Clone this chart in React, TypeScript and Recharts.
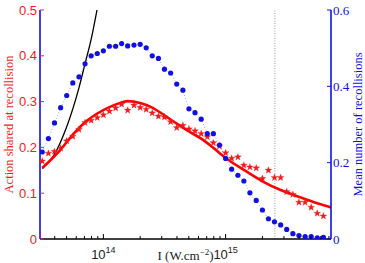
import React from 'react';
import { ComposedChart, Line, XAxis, YAxis, ReferenceLine, Label } from 'recharts';

// Laser intensity (W/cm^2) of each simulated point
const intensities = [
  3.16e13, 3.55e13, 3.98e13, 4.47e13, 5.01e13, 5.62e13, 6.31e13, 7.08e13, 7.94e13, 8.91e13,
  1.0e14, 1.12e14, 1.26e14, 1.41e14, 1.58e14, 1.78e14, 2.0e14, 2.24e14, 2.51e14, 2.82e14,
  3.16e14, 3.55e14, 3.98e14, 4.47e14, 5.01e14, 5.62e14, 6.31e14, 7.08e14, 7.94e14, 8.91e14,
  1.0e15, 1.12e15, 1.26e15, 1.41e15, 1.58e15, 1.78e15, 2.0e15, 2.24e15, 2.51e15, 2.82e15,
  3.16e15, 3.55e15, 3.98e15, 4.47e15, 5.01e15, 5.62e15, 6.31e15,
];
// Mean number of recollisions (right axis, blue dots)
const meanRecollisions = [
  0.228, 0.263, 0.304, 0.344, 0.376, 0.409, 0.425, 0.459, 0.48, 0.486,
  0.493, 0.505, 0.505, 0.512, 0.506, 0.508, 0.51, 0.501, 0.48, 0.473,
  0.445, 0.435, 0.406, 0.39, 0.341, 0.331, 0.314, 0.276, 0.276, 0.246,
  0.211, 0.183, 0.167, 0.152, 0.121, 0.101, 0.076, 0.053, 0.045, 0.037,
  0.025, 0.014, 0.009, 0.006, 0.006, 0.003, 0.004,
];
// Action shared at recollision (left axis, red stars)
const actionShared = [
  0.17, 0.187, 0.191, 0.198, 0.214, 0.224, 0.239, 0.254, 0.259, 0.265,
  0.271, 0.279, 0.286, 0.294, 0.281, 0.292, 0.287, 0.283, 0.275, 0.268,
  0.266, 0.256, 0.243, 0.248, 0.24, 0.236, 0.23, 0.223, 0.21, 0.203,
  0.188, 0.176, 0.179, 0.161, 0.157, 0.155, 0.132, 0.15, 0.134, 0.134,
  0.103, 0.097, 0.08, 0.08, 0.069, 0.056, 0.05,
];
// Model curve (red line)
const modelIntensities = [
  3.16e13, 4.47e13, 5.62e13, 7.08e13, 8.91e13, 1.12e14, 1.41e14, 1.58e14, 2.0e14, 2.51e14,
  3.16e14, 3.98e14, 5.01e14, 6.31e14, 7.94e14, 1.0e15, 1.41e15, 2.0e15, 2.82e15, 3.98e15,
  5.62e15, 7.28e15,
];
const modelValues = [
  0.155, 0.195, 0.228, 0.255, 0.274, 0.288, 0.298, 0.301, 0.297, 0.287,
  0.27, 0.252, 0.235, 0.219, 0.199, 0.177, 0.151, 0.126, 0.107, 0.092,
  0.078, 0.069,
];
// Low-intensity approximation (black line)
const lowIntensities = [3.16e13, 3.98e13, 5.01e13, 6.31e13, 7.08e13, 7.94e13, 8.91e13, 1.0e14];
const lowValues = [0.154, 0.185, 0.245, 0.33, 0.383, 0.436, 0.503, 0.575];

const leftTicks = [0, 0.1, 0.2, 0.3, 0.4, 0.5];
const rightTicks = [0, 0.2, 0.4, 0.6];
const majorXTicks = [1e14, 1e15];
const minorXTicks = [
  4e13, 5e13, 6e13, 7e13, 8e13, 9e13,
  2e14, 3e14, 4e14, 5e14, 6e14, 7e14, 8e14, 9e14,
  2e15, 3e15, 4e15, 5e15, 6e15, 7e15,
];
const xDomain = [3.03e13, 7.28e15];
const thresholdIntensity = 2.53e15;

const blueData = intensities.map((x, i) => ({ x, v: meanRecollisions[i] }));
const starData = intensities.map((x, i) => ({ x, v: actionShared[i] }));
const modelData = modelIntensities.map((x, i) => ({ x, v: modelValues[i] }));
const lowData = lowIntensities.map((x, i) => ({ x, v: lowValues[i] }));

const RED = '#ee1c1c';
const BLUE = '#1010e6';
const SANS = 'Liberation Sans, Arial, sans-serif';
const SERIF = 'Liberation Serif, Times New Roman, serif';

const BottomTick = (props: any) => {
  const { x, y, payload } = props;
  const major = majorXTicks.includes(payload.value);
  const exp = Math.round(Math.log10(payload.value));
  return (
    <g>
      <line x1={x} x2={x} y1={y} y2={y - (major ? 5 : 3)} stroke="#000" strokeWidth={1} />
      {major && (
        <text x={x} y={y + 20} textAnchor="middle" fontFamily={SANS} fontSize={13} fill="#222">
          10
          <tspan dy={-6} fontSize={9}>{exp}</tspan>
        </text>
      )}
    </g>
  );
};

const TopTick = (props: any) => {
  const { x, y, payload } = props;
  const major = majorXTicks.includes(payload.value);
  return <line x1={x} x2={x} y1={y} y2={y + (major ? 5 : 3)} stroke="#000" strokeWidth={1} />;
};

const LeftTick = (props: any) => {
  const { x, y, payload } = props;
  const ax = x + 3;
  return (
    <g>
      <line x1={ax} x2={ax + 4} y1={y} y2={y} stroke="#d0208a" strokeWidth={1} />
      <text x={x} y={y} dy="0.35em" textAnchor="end" fontFamily={SANS} fontSize={13} fill={RED}>
        {payload.value}
      </text>
    </g>
  );
};

const RightTick = (props: any) => {
  const { x, y, payload } = props;
  const ax = x - 2;
  return (
    <g>
      <line x1={ax} x2={ax - 4} y1={y} y2={y} stroke={BLUE} strokeWidth={1} />
      <text x={x} y={y} dy="0.35em" textAnchor="start" fontFamily={SERIF} fontSize={13} fill={BLUE}>
        {payload.value}
      </text>
    </g>
  );
};

const starPath = (cx: number, cy: number, ro: number, ri: number) => {
  const pts: string[] = [];
  for (let i = 0; i < 10; i++) {
    const r = i % 2 === 0 ? ro : ri;
    const a = -Math.PI / 2 + (i * Math.PI) / 5;
    pts.push(`${cx + r * Math.cos(a)},${cy + r * Math.sin(a)}`);
  }
  return pts.join(' ');
};

const StarDot = (p: any) => {
  if (p.cx == null || p.cy == null) return <g key={p.index} />;
  return <polygon key={p.index} points={starPath(p.cx, p.cy, 3.6, 1.5)} fill={RED} stroke={RED} strokeWidth={0.3} />;
};

const BlueDot = (p: any) => {
  if (p.cx == null || p.cy == null) return <g key={p.index} />;
  return <circle key={p.index} cx={p.cx} cy={p.cy} r={2.6} fill={BLUE} />;
};

export default function App() {
  return (
    <div style={{ position: 'absolute', left: 0, top: 0, background: '#fff' }}>
      <ComposedChart width={365} height={263} margin={{ top: 10, right: 0, bottom: 0, left: 0 }}>
        <XAxis
          dataKey="x"
          type="number"
          scale="log"
          domain={xDomain}
          allowDataOverflow
          ticks={[...majorXTicks, ...minorXTicks]}
          interval={0}
          height={24}
          tickSize={0}
          tickMargin={0}
          tick={<BottomTick />}
          axisLine={{ stroke: '#000', strokeWidth: 1.6 }}
          tickLine={false}
        >
          <Label
            content={(p: any) => {
              const vb = p.viewBox;
              return (
                <text x={vb.x + vb.width / 2} y={vb.y + 21} textAnchor="middle" fontFamily={SERIF} fontSize={13} fill="#222">
                  I (W.cm
                  <tspan dy={-5} fontSize={9}>−2</tspan>
                  <tspan dy={5}>)</tspan>
                </text>
              );
            }}
          />
        </XAxis>
        <XAxis
          xAxisId="top"
          dataKey="x"
          orientation="top"
          type="number"
          scale="log"
          domain={xDomain}
          allowDataOverflow
          ticks={[...majorXTicks, ...minorXTicks]}
          interval={0}
          height={0}
          tickSize={0}
          tickMargin={0}
          tick={<TopTick />}
          axisLine={{ stroke: '#111', strokeWidth: 1.6 }}
          tickLine={false}
        />
        <YAxis
          yAxisId="L"
          domain={[0, 0.5]}
          ticks={leftTicks}
          allowDataOverflow
          width={40}
          tickSize={0}
          tickMargin={3}
          tick={<LeftTick />}
          tickLine={false}
          axisLine={{ stroke: BLUE, strokeWidth: 1.6 }}
        >
          <Label
            content={(p: any) => {
              const vb = p.viewBox;
              const cx = vb.x + 9;
              const cy = vb.y + vb.height / 2;
              return (
                <text x={cx} y={cy} dy="0.35em" transform={`rotate(-90, ${cx}, ${cy})`} textAnchor="middle" fontFamily={SERIF} fontSize={12.5} fill={RED}>
                  Action shared at recollision
                </text>
              );
            }}
          />
        </YAxis>
        <YAxis
          yAxisId="R"
          orientation="right"
          domain={[0, 0.6]}
          ticks={rightTicks}
          allowDataOverflow
          width={34}
          tickSize={0}
          tickMargin={2}
          tick={<RightTick />}
          tickLine={false}
          axisLine={{ stroke: BLUE, strokeWidth: 1.6 }}
        >
          <Label
            content={(p: any) => {
              const vb = p.viewBox;
              const cx = vb.x + 26.5;
              const cy = vb.y + vb.height / 2;
              return (
                <text x={cx} y={cy} dy="0.35em" transform={`rotate(-90, ${cx}, ${cy})`} textAnchor="middle" fontFamily={SERIF} fontSize={12.5} fill={BLUE}>
                  Mean number of recollisions
                </text>
              );
            }}
          />
        </YAxis>
        <ReferenceLine x={thresholdIntensity} yAxisId="L" stroke="#9a9a9a" strokeDasharray="1 1.5" strokeWidth={1} />
        <Line
          data={lowData}
          dataKey="v"
          yAxisId="L"
          type="monotone"
          stroke="#000"
          strokeWidth={1.3}
          dot={false}
          isAnimationActive={false}
        />
        <Line
          data={modelData}
          dataKey="v"
          yAxisId="L"
          type="monotone"
          stroke="#ff0000"
          strokeWidth={2.6}
          dot={false}
          isAnimationActive={false}
        />
        <Line
          data={starData}
          dataKey="v"
          yAxisId="L"
          stroke="none"
          dot={StarDot}
          activeDot={false}
          isAnimationActive={false}
        />
        <Line
          data={blueData}
          dataKey="v"
          yAxisId="R"
          type="linear"
          stroke="#8c8cff"
          strokeWidth={0.8}
          strokeDasharray="1 2"
          dot={BlueDot}
          activeDot={false}
          isAnimationActive={false}
        />
      </ComposedChart>
    </div>
  );
}
